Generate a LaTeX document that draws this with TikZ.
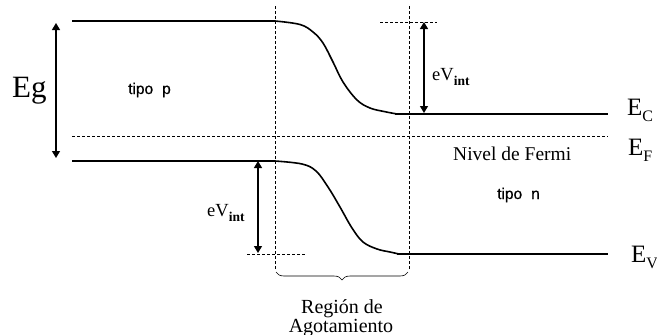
\documentclass[tikz,border=0pt]{standalone}
\usepackage{fontspec}
\setmainfont{Liberation Serif}
\newfontfamily\tipofont[FakeBold=0.8]{Liberation Sans}
\usetikzlibrary{arrows.meta,decorations.pathreplacing}
\begin{document}
\begin{tikzpicture}[x=1pt,y=-1pt,
  band/.style={line width=2.2pt},
  bendline/.style={line width=1.6pt},
  guide/.style={line width=0.8pt, dash pattern=on 3pt off 2pt},
  dim/.style={line width=1.3pt, {Triangle[width=8pt,length=7pt]}-{Triangle[width=8pt,length=7pt]}},
  lbl/.style={inner sep=0pt, anchor=base west},
  big/.style={font=\fontsize{25}{25}\selectfont},
  tipo/.style={lbl, font=\tipofont\fontsize{15.5}{15.5}\selectfont},
  regl/.style={inner sep=0pt, anchor=base, font=\fontsize{20}{20}\selectfont}
]
\useasboundingbox (0,0) rectangle (657,335);

% band edge coordinates
\coordinate (cpL) at (72,21);
\coordinate (cpR) at (275,21);
\coordinate (cnL) at (395,114);
\coordinate (cnR) at (608,114);
\coordinate (vpL) at (72,161);
\coordinate (vpR) at (275,161);
\coordinate (vnL) at (397,254);
\coordinate (vnR) at (608,254);
\coordinate (fL) at (72,136);
\coordinate (fR) at (608,136);

% bands
\draw[band] (cpL) -- (cpR);
\draw[band] (cnL) -- (cnR);
\draw[band] (vpL) -- (vpR);
\draw[band] (vnL) -- (vnR);
\draw[bendline] plot[smooth, tension=0.6] coordinates {(275,21) (300,24.5) (313,32) (323,43) (333,62) (343,82) (357,100) (370,108) (384,111.5) (397,114)};
\draw[bendline] plot[smooth, tension=0.6] coordinates {(275,161) (302,164) (316,171) (328,187) (340,207) (352,228) (363,242) (377,249) (390,252) (399,254)};

% Fermi level
\draw[guide] (fL) -- (fR);

% depletion region borders
\coordinate (lT) at (275,6);
\coordinate (lB) at (275,270);
\coordinate (rT) at (409,6);
\coordinate (rB) at (409,270);
\draw[guide] (lT) -- (lB);
\draw[guide] (rT) -- (rB);

% brace
\coordinate (bL) at (276,272);
\coordinate (bR) at (408,272);
\draw[decorate, decoration={brace, mirror, amplitude=8pt}, line width=0.6pt] (bL) -- (bR);

% Eg arrow
\coordinate (egT) at (56,23);
\coordinate (egB) at (56,158);
\draw[dim] (egT) -- (egB);

% upper eV_int
\coordinate (uT) at (424,22);
\coordinate (uB) at (424,113);
\coordinate (uhL) at (380,22);
\coordinate (uhR) at (437,22);
\draw[guide] (uhL) -- (uhR);
\draw[dim] (uT) -- (uB);

% lower eV_int
\coordinate (dT) at (258,161);
\coordinate (dB) at (258,253);
\coordinate (dhL) at (247,254);
\coordinate (dhR) at (305,254);
\draw[guide] (dhL) -- (dhR);
\draw[dim] (dT) -- (dB);

% labels
\node[lbl, font=\fontsize{31}{31}\selectfont] (eg) at (12,97) {Eg};
\node[tipo] (tp) at (128,94) {tipo\hspace{9pt}p};
\node[tipo] (tn) at (497,199) {tipo\hspace{9pt}n};
\node[lbl, font=\fontsize{18.5}{18.5}\selectfont] (ev1) at (432,80) {eV\raisebox{-5pt}{\fontsize{13.5}{13.5}\selectfont\bfseries int}};
\node[lbl, font=\fontsize{18.5}{18.5}\selectfont] (ev2) at (207,216) {eV\raisebox{-5pt}{\fontsize{13.5}{13.5}\selectfont\bfseries int}};
\node[lbl, font=\fontsize{19.5}{19.5}\selectfont] (nf) at (453,160) {Nivel de Fermi};
\node[lbl, big] (ec) at (627,115) {E\raisebox{-6pt}{\fontsize{16}{16}\selectfont C}};
\node[lbl, big] (ef) at (628,155) {E\raisebox{-6pt}{\fontsize{16}{16}\selectfont F}};
\node[lbl, big] (ev) at (631,262) {E\raisebox{-6pt}{\fontsize{16}{16}\selectfont V}};
\node[regl] (reg1) at (342,313) {Región de};
\node[regl] (reg2) at (341,332) {Agotamiento};
\end{tikzpicture}
\end{document}
